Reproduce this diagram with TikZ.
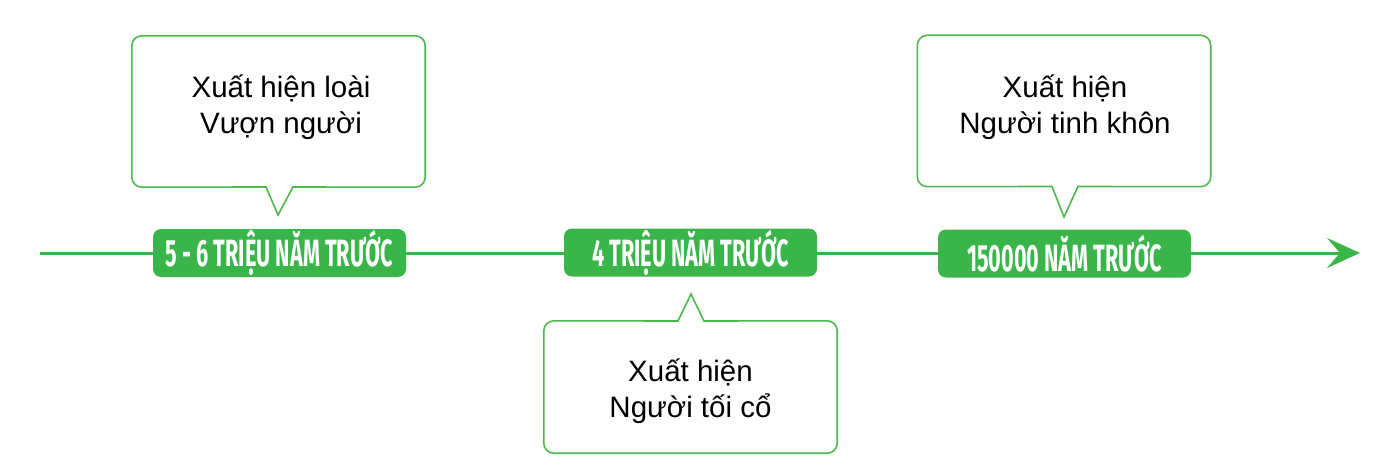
\documentclass[tikz,border=0pt]{standalone}
\usepackage{fontspec}
\setmainfont{Liberation Sans}
\newfontfamily\labelfont{Fira Sans}[FakeStretch=0.57]
\usetikzlibrary{arrows.meta}
\definecolor{tlgreen}{HTML}{3AB54A}
\definecolor{cogreen}{HTML}{4DB84F}
\tikzset{
  datebox/.style={fill=tlgreen, rounded corners=8pt, minimum width=253pt, minimum height=48pt, inner sep=0pt,
    text=white, font=\labelfont\bfseries\fontsize{38}{38}\selectfont},
  calloutline/.style={draw=cogreen, line width=1.6pt, line join=miter},
  boxarea/.style={minimum width=293pt, minimum height=151pt, inner sep=0pt},
  calltext/.style={align=center, inner sep=0pt, font=\fontsize{29.5}{36}\selectfont},
  timeline/.style={draw=tlgreen, line width=3pt, -{Stealth[length=33pt,width=30pt,inset=13pt]}}
}
\begin{document}
\begin{tikzpicture}[x=1pt,y=-1pt]
\useasboundingbox (0,0) rectangle (1382,468);
\coordinate (start) at (40,253);
\coordinate (end) at (1360,253);
\draw[timeline] (start) -- (end);
\node[datebox] (d1) at (279.5,253) {5 - 6 TRIỆU NĂM TRƯỚC};
\node[datebox] (d2) at (690.5,252.5) {4 TRIỆU NĂM TRƯỚC};
\node[datebox] (d3) at (1064.5,253.5) {150000 NĂM TRƯỚC};
% callout 1
\node[boxarea] (b1) at (278.5,111.5) {};
\coordinate (t1) at (278,215);
\draw[calloutline] (266,187) [rounded corners=10pt] -- (b1.south west) -- (b1.north west) -- (b1.north east) -- (b1.south east) [sharp corners] -- (293,187) -- (t1) -- cycle;
\node[calltext] (x1) at (281,107) {Xuất hiện loài\\Vượn người};
% callout 3
\node[boxarea] (b3) at (1064,111) {};
\coordinate (t3) at (1064,217);
\draw[calloutline] (1052,186.5) [rounded corners=10pt] -- (b3.south west) -- (b3.north west) -- (b3.north east) -- (b3.south east) [sharp corners] -- (1078,186.5) -- (t3) -- cycle;
\node[calltext] (x3) at (1065,107) {Xuất hiện\\Người tinh khôn};
% callout 2
\node[boxarea, minimum height=132pt] (b2) at (690.5,387) {};
\coordinate (t2) at (691,294);
\draw[calloutline] (678,321) [rounded corners=10pt] -- (b2.north west) -- (b2.south west) -- (b2.south east) -- (b2.north east) [sharp corners] -- (704,321) -- (t2) -- cycle;
\node[calltext] (x2) at (690.5,391) {Xuất hiện\\Người tối cổ};
\end{tikzpicture}
\end{document}
